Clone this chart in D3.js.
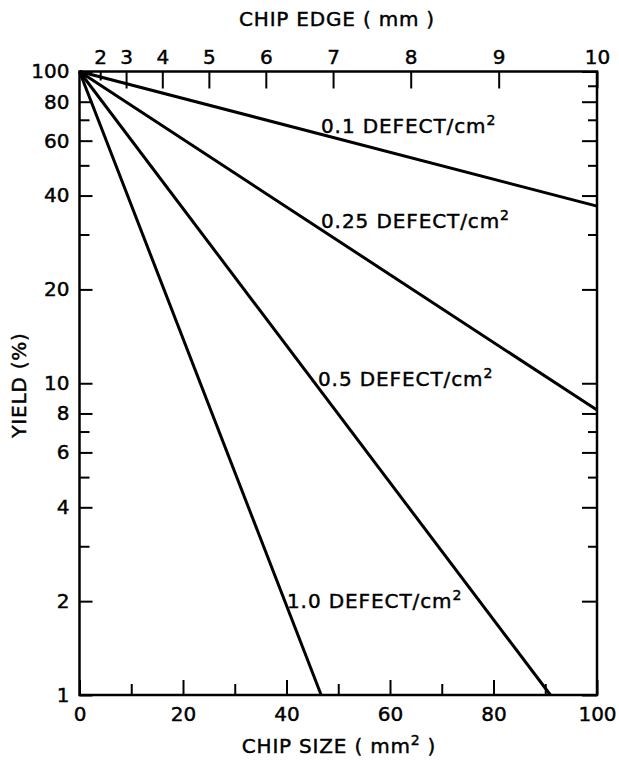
<!DOCTYPE html>
<html>
<head>
<meta charset="utf-8">
<script src="https://cdn.jsdelivr.net/npm/d3@7"></script>
<style>
  html, body { margin: 0; padding: 0; background: #fff; }
  svg { display: block; }
  text { font-family: "DejaVu Sans", "Liberation Sans", Arial, sans-serif; fill: #000; stroke: #000; stroke-width: 0.45; }
</style>
</head>
<body>
<svg id="chart" width="619" height="760"></svg>
<script>
// ---- data ----
const defectLabels = ["0.1", "0.25", "0.5", "1.0"];
const startPoint = { size: 0, yield: 100 };
const endSizes = [100, 100, 91, 46.7];
const endYields = [37, 8.2, 1, 1];

const xTicksMajor = [0, 20, 40, 60, 80, 100];
const xTicksMinor = [10, 30, 50, 70, 90];
const yTicksMajor = [1, 2, 4, 6, 8, 10, 20, 40, 60, 80, 100];
const yTicksMinorLeft = [3, 5, 7, 30, 50, 70];
const yTicksMinorRight = [3, 5, 7, 30, 50, 70, 90];
const edgeTicks = [2, 3, 4, 5, 6, 7, 8, 9, 10];

// ---- layout ----
const L = 79.5, R = 597, T = 71.5, B = 695;
const FS = 20;
const svg = d3.select("#chart");
const x = d3.scaleLinear().domain([0, 100]).range([L, R]);
const y = d3.scaleLog().domain([1, 100]).range([B, T]);
const edge = d3.scalePow().exponent(2).domain([0, 10]).range([L, R]);

function styleAxis(g) {
  g.select(".domain").remove();
  g.selectAll(".tick line").attr("stroke", "#000").attr("stroke-width", 2);
  g.selectAll(".tick text").attr("font-size", FS).attr("fill", "#000")
    .style("font-family", '"DejaVu Sans", Arial, sans-serif');
}

// left axis
svg.append("g").attr("transform", `translate(${L},0)`)
  .call(d3.axisLeft(y).tickValues(yTicksMajor).tickFormat(d3.format("d"))
    .tickSizeInner(-13).tickSizeOuter(0).tickPadding(10))
  .call(styleAxis);
svg.append("g").attr("transform", `translate(${L},0)`)
  .call(d3.axisLeft(y).tickValues(yTicksMinorLeft).tickFormat("")
    .tickSizeInner(-10).tickSizeOuter(0))
  .call(styleAxis);

// right axis
svg.append("g").attr("transform", `translate(${R},0)`)
  .call(d3.axisRight(y).tickValues(yTicksMajor).tickFormat("")
    .tickSizeInner(-15).tickSizeOuter(0))
  .call(styleAxis);
svg.append("g").attr("transform", `translate(${R},0)`)
  .call(d3.axisRight(y).tickValues(yTicksMinorRight).tickFormat("")
    .tickSizeInner(-9).tickSizeOuter(0))
  .call(styleAxis);

// bottom axis
svg.append("g").attr("transform", `translate(0,${B})`)
  .call(d3.axisBottom(x).tickValues(xTicksMajor).tickFormat(d3.format("d"))
    .tickSizeInner(-15).tickSizeOuter(0).tickPadding(12))
  .call(styleAxis);
svg.append("g").attr("transform", `translate(0,${B})`)
  .call(d3.axisBottom(x).tickValues(xTicksMinor).tickFormat("")
    .tickSizeInner(-11).tickSizeOuter(0))
  .call(styleAxis);

// top axis (chip edge, mm)
const topAx = svg.append("g").attr("transform", `translate(0,${T})`)
  .call(d3.axisTop(edge).tickValues(edgeTicks).tickFormat(d3.format("d"))
    .tickSizeInner(-17).tickSizeOuter(0).tickPadding(8))
  .call(styleAxis);
topAx.selectAll(".tick").filter(d => d === 2).select("line").attr("y2", 9);

// frame
svg.append("rect").attr("x", L).attr("y", T).attr("width", R - L).attr("height", B - T)
  .attr("fill", "none").attr("stroke", "#000").attr("stroke-width", 2.5);

// lines
const line = d3.line().x(d => x(d.size)).y(d => y(d.yield));
defectLabels.forEach((lab, i) => {
  svg.append("path")
    .datum([startPoint, { size: endSizes[i], yield: endYields[i] }])
    .attr("d", line).attr("fill", "none").attr("stroke", "#000")
    .attr("stroke-width", 3).attr("stroke-linecap", "butt");
});

// line labels
const labelAt = [[321, 133], [321, 228], [318, 386], [287, 608]];
defectLabels.forEach((lab, i) => {
  const t = svg.append("text").attr("x", labelAt[i][0]).attr("y", labelAt[i][1])
    .attr("font-size", FS).attr("letter-spacing", 0.9);
  t.append("tspan").text(lab + " DEFECT/cm");
  t.append("tspan").attr("dy", -8).attr("font-size", 14).text("2");
});

// axis titles
svg.append("text").attr("x", 337).attr("y", 26).attr("text-anchor", "middle")
  .attr("font-size", FS).attr("letter-spacing", 0.8).text("CHIP EDGE ( mm )");

const bt = svg.append("text").attr("x", 339).attr("y", 753).attr("text-anchor", "middle")
  .attr("font-size", FS).attr("letter-spacing", 0.8);
bt.append("tspan").text("CHIP SIZE ( mm");
bt.append("tspan").attr("dy", -8).attr("font-size", 14).text("2");
bt.append("tspan").attr("dy", 8).text(" )");

svg.append("text").attr("transform", "translate(26,385) rotate(-90)")
  .attr("text-anchor", "middle").attr("font-size", FS).attr("letter-spacing", 0.8)
  .text("YIELD (%)");
</script>
</body>
</html>
